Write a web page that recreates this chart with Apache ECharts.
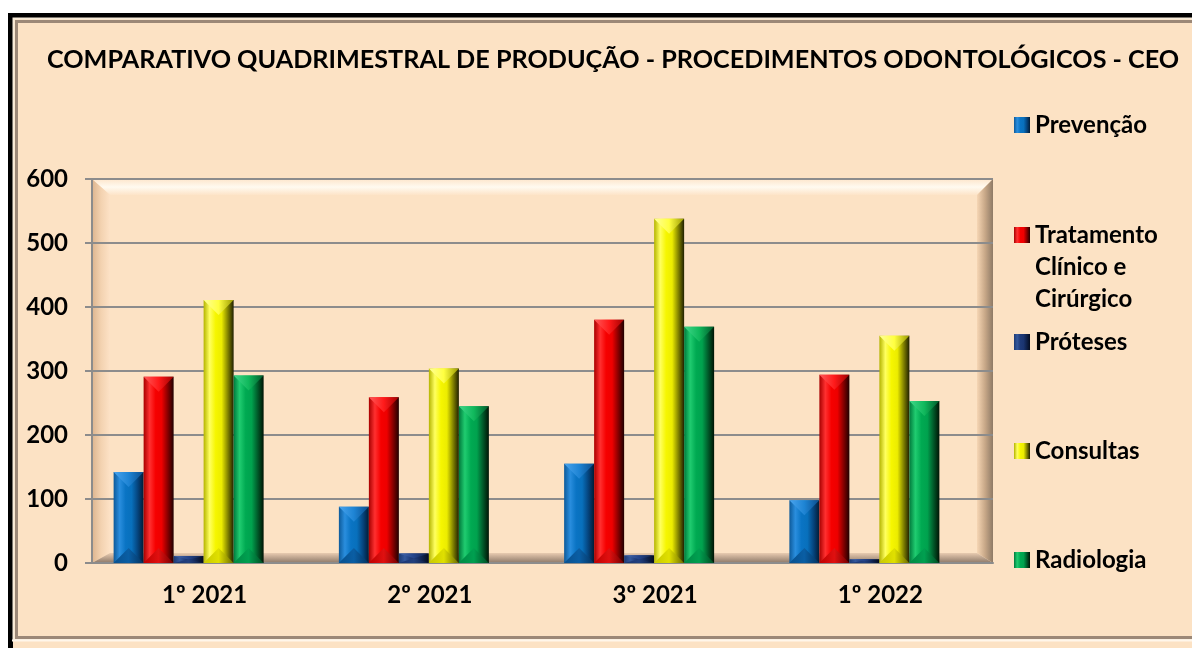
<!DOCTYPE html>
<html>
<head>
<meta charset="utf-8">
<style>
  html, body { margin: 0; padding: 0; background: #fff; }
  #chart { width: 1192px; height: 648px; }
</style>
<script src="https://cdn.jsdelivr.net/npm/echarts@6/dist/echarts.min.js"></script>
</head>
<body>
<div id="chart"></div>
<script>
const quadrimestres = ['1º 2021', '2º 2021', '3º 2021', '1º 2022'];
const prevencao = [142, 88, 155, 98];
const tratamento = [291, 259, 380, 294];
const proteses = [11, 15, 12, 6];
const consultas = [411, 304, 538, 355];
const radiologia = [293, 245, 369, 253];

const FONT = 'Lato, "Open Sans", sans-serif';
const PEACH = '#fce2c4';

// plot area (back wall) in pixels
const wall = { x0: 92, y0: 179, x1: 993, y1: 563 };
const bev = 16;
const BAR_W = 30;

function grad(stops, vertical) {
  return new echarts.graphic.LinearGradient(0, 0, vertical ? 0 : 1, vertical ? 1 : 0,
    stops.map(function (c, i) { return { offset: i / (stops.length - 1), color: c }; }));
}

// body, top facet, bottom facet
const paletas = {
  'Prevenção': {
    body: ['#0d5a9a', '#2a8ede', '#0a74c4', '#0870bc', '#05457f', '#021c36'],
    top: ['#4aa4ee', '#1e84d4', '#0a4c8c'],
    bot: ['#08508e', '#0a5ea4', '#04325e']
  },
  'Tratamento Clínico e Cirúrgico': {
    body: ['#a80000', '#ff3030', '#f60000', '#ee0000', '#880000', '#200000'],
    top: ['#ff5a5a', '#ff1a1a', '#a00000'],
    bot: ['#c00000', '#e01010', '#700000']
  },
  'Próteses': {
    body: ['#1c3a74', '#34589c', '#1e3a78', '#1a3470', '#0e2048', '#050c1e'],
    top: ['#4a6cb0', '#24448a', '#0e2048'],
    bot: ['#1a3470', '#22407e', '#0a1838']
  },
  'Consultas': {
    body: ['#b4b400', '#ffff60', '#f6f600', '#ecec00', '#868600', '#202000'],
    top: ['#ffff98', '#ffff40', '#9a9a00'],
    bot: ['#c8c800', '#e0e000', '#6a6a00']
  },
  'Radiologia': {
    body: ['#007a3c', '#20cc70', '#00aa52', '#00a24e', '#005a2a', '#001404'],
    top: ['#40d88a', '#10b85c', '#005a2a'],
    bot: ['#008a44', '#00a050', '#004a22']
  }
};

const nomes = ['Prevenção', 'Tratamento Clínico e Cirúrgico', 'Próteses', 'Consultas', 'Radiologia'];
const valores = [prevencao, tratamento, proteses, consultas, radiologia];

function renderBar(params, api) {
  const k = params.seriesIndex;
  const p = paletas[nomes[k]];
  const top = api.coord([api.value(0), api.value(1)]);
  const base = api.coord([api.value(0), 0]);
  const cx = top[0] + (k - 2) * BAR_W;
  const x0 = cx - BAR_W / 2, x1 = cx + BAR_W / 2;
  const yT = top[1], yB = base[1];
  const b = Math.min(15, (yB - yT) / 2);
  return {
    type: 'group',
    children: [
      { type: 'rect', shape: { x: x0, y: yT, width: BAR_W, height: yB - yT }, style: { fill: grad(p.body) } },
      { type: 'polygon', shape: { points: [[x0, yT], [x1, yT], [cx, yT + b]] }, style: { fill: grad(p.top) } },
      { type: 'polygon', shape: { points: [[x0, yB], [cx, yB - b], [x1, yB]] }, style: { fill: grad(p.bot) } }
    ]
  };
}

const series = nomes.map(function (nome, k) {
  return {
    name: nome,
    type: 'custom',
    xAxisIndex: 1,
    yAxisIndex: 1,
    z: 5,
    data: valores[k].map(function (v, i) { return [i, v]; }),
    renderItem: renderBar,
    itemStyle: { color: grad(paletas[nome].body) }
  };
});

function legendItem(name, top) {
  const multi = name === 'Tratamento Clínico e Cirúrgico';
  return {
    data: [name],
    left: 1014,
    top: top,
    orient: 'vertical',
    padding: 0,
    itemWidth: 16,
    itemHeight: 16,
    itemGap: 5,
    icon: 'rect',
    selectedMode: false,
    // blank lines keep the icon on the first line of the wrapped name
    formatter: multi ? '\n\nTratamento\nClínico e\nCirúrgico' : '{name}',
    textStyle: { fontFamily: FONT, fontWeight: 'bold', fontSize: 24, color: '#000', lineHeight: 32 }
  };
}

const graphics = [
  // frame
  { type: 'rect', z: -30, shape: { x: 0, y: 0, width: 1192, height: 648 }, style: { fill: '#fff' } },
  { type: 'rect', z: -29, shape: { x: 10.5, y: 15.5, width: 1200, height: 660 }, style: { fill: PEACH, stroke: '#000', lineWidth: 5 } },
  { type: 'rect', z: -28, shape: { x: 13.5, y: 18.5, width: 1200, height: 621 }, style: { fill: 'none', stroke: '#f6ead8', lineWidth: 2 } },
  { type: 'rect', z: -28, shape: { x: 16.5, y: 21.5, width: 1200, height: 616 }, style: { fill: 'none', stroke: '#9c8877', lineWidth: 3 } },
  { type: 'line', z: -28, shape: { x1: 12, y1: 640.5, x2: 1192, y2: 640.5 }, style: { stroke: '#fff6ea', lineWidth: 2 } },
  // wall bevels
  { type: 'polygon', z: -20, shape: { points: [[wall.x0, wall.y0], [wall.x1, wall.y0], [wall.x1 - bev, wall.y0 + bev], [wall.x0 + 18, wall.y0 + bev]] },
    style: { fill: grad(['#fde6cc', '#fffaf0', '#fde4c8'], true) } },
  { type: 'polygon', z: -20, shape: { points: [[wall.x0, wall.y0], [wall.x0 + 18, wall.y0 + bev], [wall.x0 + 18, wall.y1 - 10], [wall.x0, wall.y1]] },
    style: { fill: grad(['#dcb48e', '#f3d2b0', '#fde2c6']) } },
  { type: 'polygon', z: -20, shape: { points: [[wall.x1, wall.y0], [wall.x1, wall.y1], [wall.x1 - bev, wall.y1 - 10], [wall.x1 - bev, wall.y0 + bev]] },
    style: { fill: grad(['#f6d6b4', '#c8a888', '#8e7a66']) } },
  { type: 'polygon', z: -20, shape: { points: [[wall.x0, wall.y1], [wall.x0 + 18, wall.y1 - 10], [wall.x1 - bev, wall.y1 - 10], [wall.x1, wall.y1]] },
    style: { fill: grad(['#e8cbb0', '#8c7868'], true) } }
];

const chart = echarts.init(document.getElementById('chart'));
chart.setOption({
  backgroundColor: 'transparent',
  animation: false,
  title: {
    text: 'COMPARATIVO QUADRIMESTRAL DE PRODUÇÃO - PROCEDIMENTOS ODONTOLÓGICOS - CEO',
    left: 47,
    top: 47,
    padding: 0,
    textStyle: { fontFamily: FONT, fontWeight: 'bold', fontSize: 25.2, color: '#000' }
  },
  legend: [
    legendItem('Prevenção', 109),
    legendItem('Tratamento Clínico e Cirúrgico', 155),
    legendItem('Próteses', 326),
    legendItem('Consultas', 435),
    legendItem('Radiologia', 544)
  ],
  graphic: { elements: graphics },
  grid: [
    { left: wall.x0, top: wall.y0, width: wall.x1 - wall.x0, height: wall.y1 - wall.y0 },
    { left: wall.x0 - 16, top: wall.y0, width: wall.x1 - wall.x0, height: wall.y1 - wall.y0 }
  ],
  xAxis: [
    {
      type: 'category', gridIndex: 0, data: quadrimestres,
      axisLine: { lineStyle: { color: '#8c8c8c', width: 2 } },
      axisTick: { length: 8, lineStyle: { color: '#8c8c8c', width: 2 } },
      axisLabel: { margin: 20, fontFamily: FONT, fontWeight: 'bold', fontSize: 24, color: '#000' }
    },
    { type: 'category', gridIndex: 1, data: quadrimestres, show: false }
  ],
  yAxis: [
    {
      type: 'value', gridIndex: 0, min: 0, max: 600, interval: 100,
      axisLine: { show: true, lineStyle: { color: '#8c8c8c', width: 2 } },
      axisTick: { show: true, length: 7, lineStyle: { color: '#8c8c8c', width: 2 } },
      splitLine: { lineStyle: { color: '#8c8c8c', width: 2 } },
      axisLabel: { margin: 24, fontFamily: FONT, fontWeight: 'bold', fontSize: 24, color: '#000' }
    },
    { type: 'value', gridIndex: 1, min: 0, max: 600, interval: 100, show: false, splitLine: { show: false } }
  ],
  series: series
});
</script>
</body>
</html>
